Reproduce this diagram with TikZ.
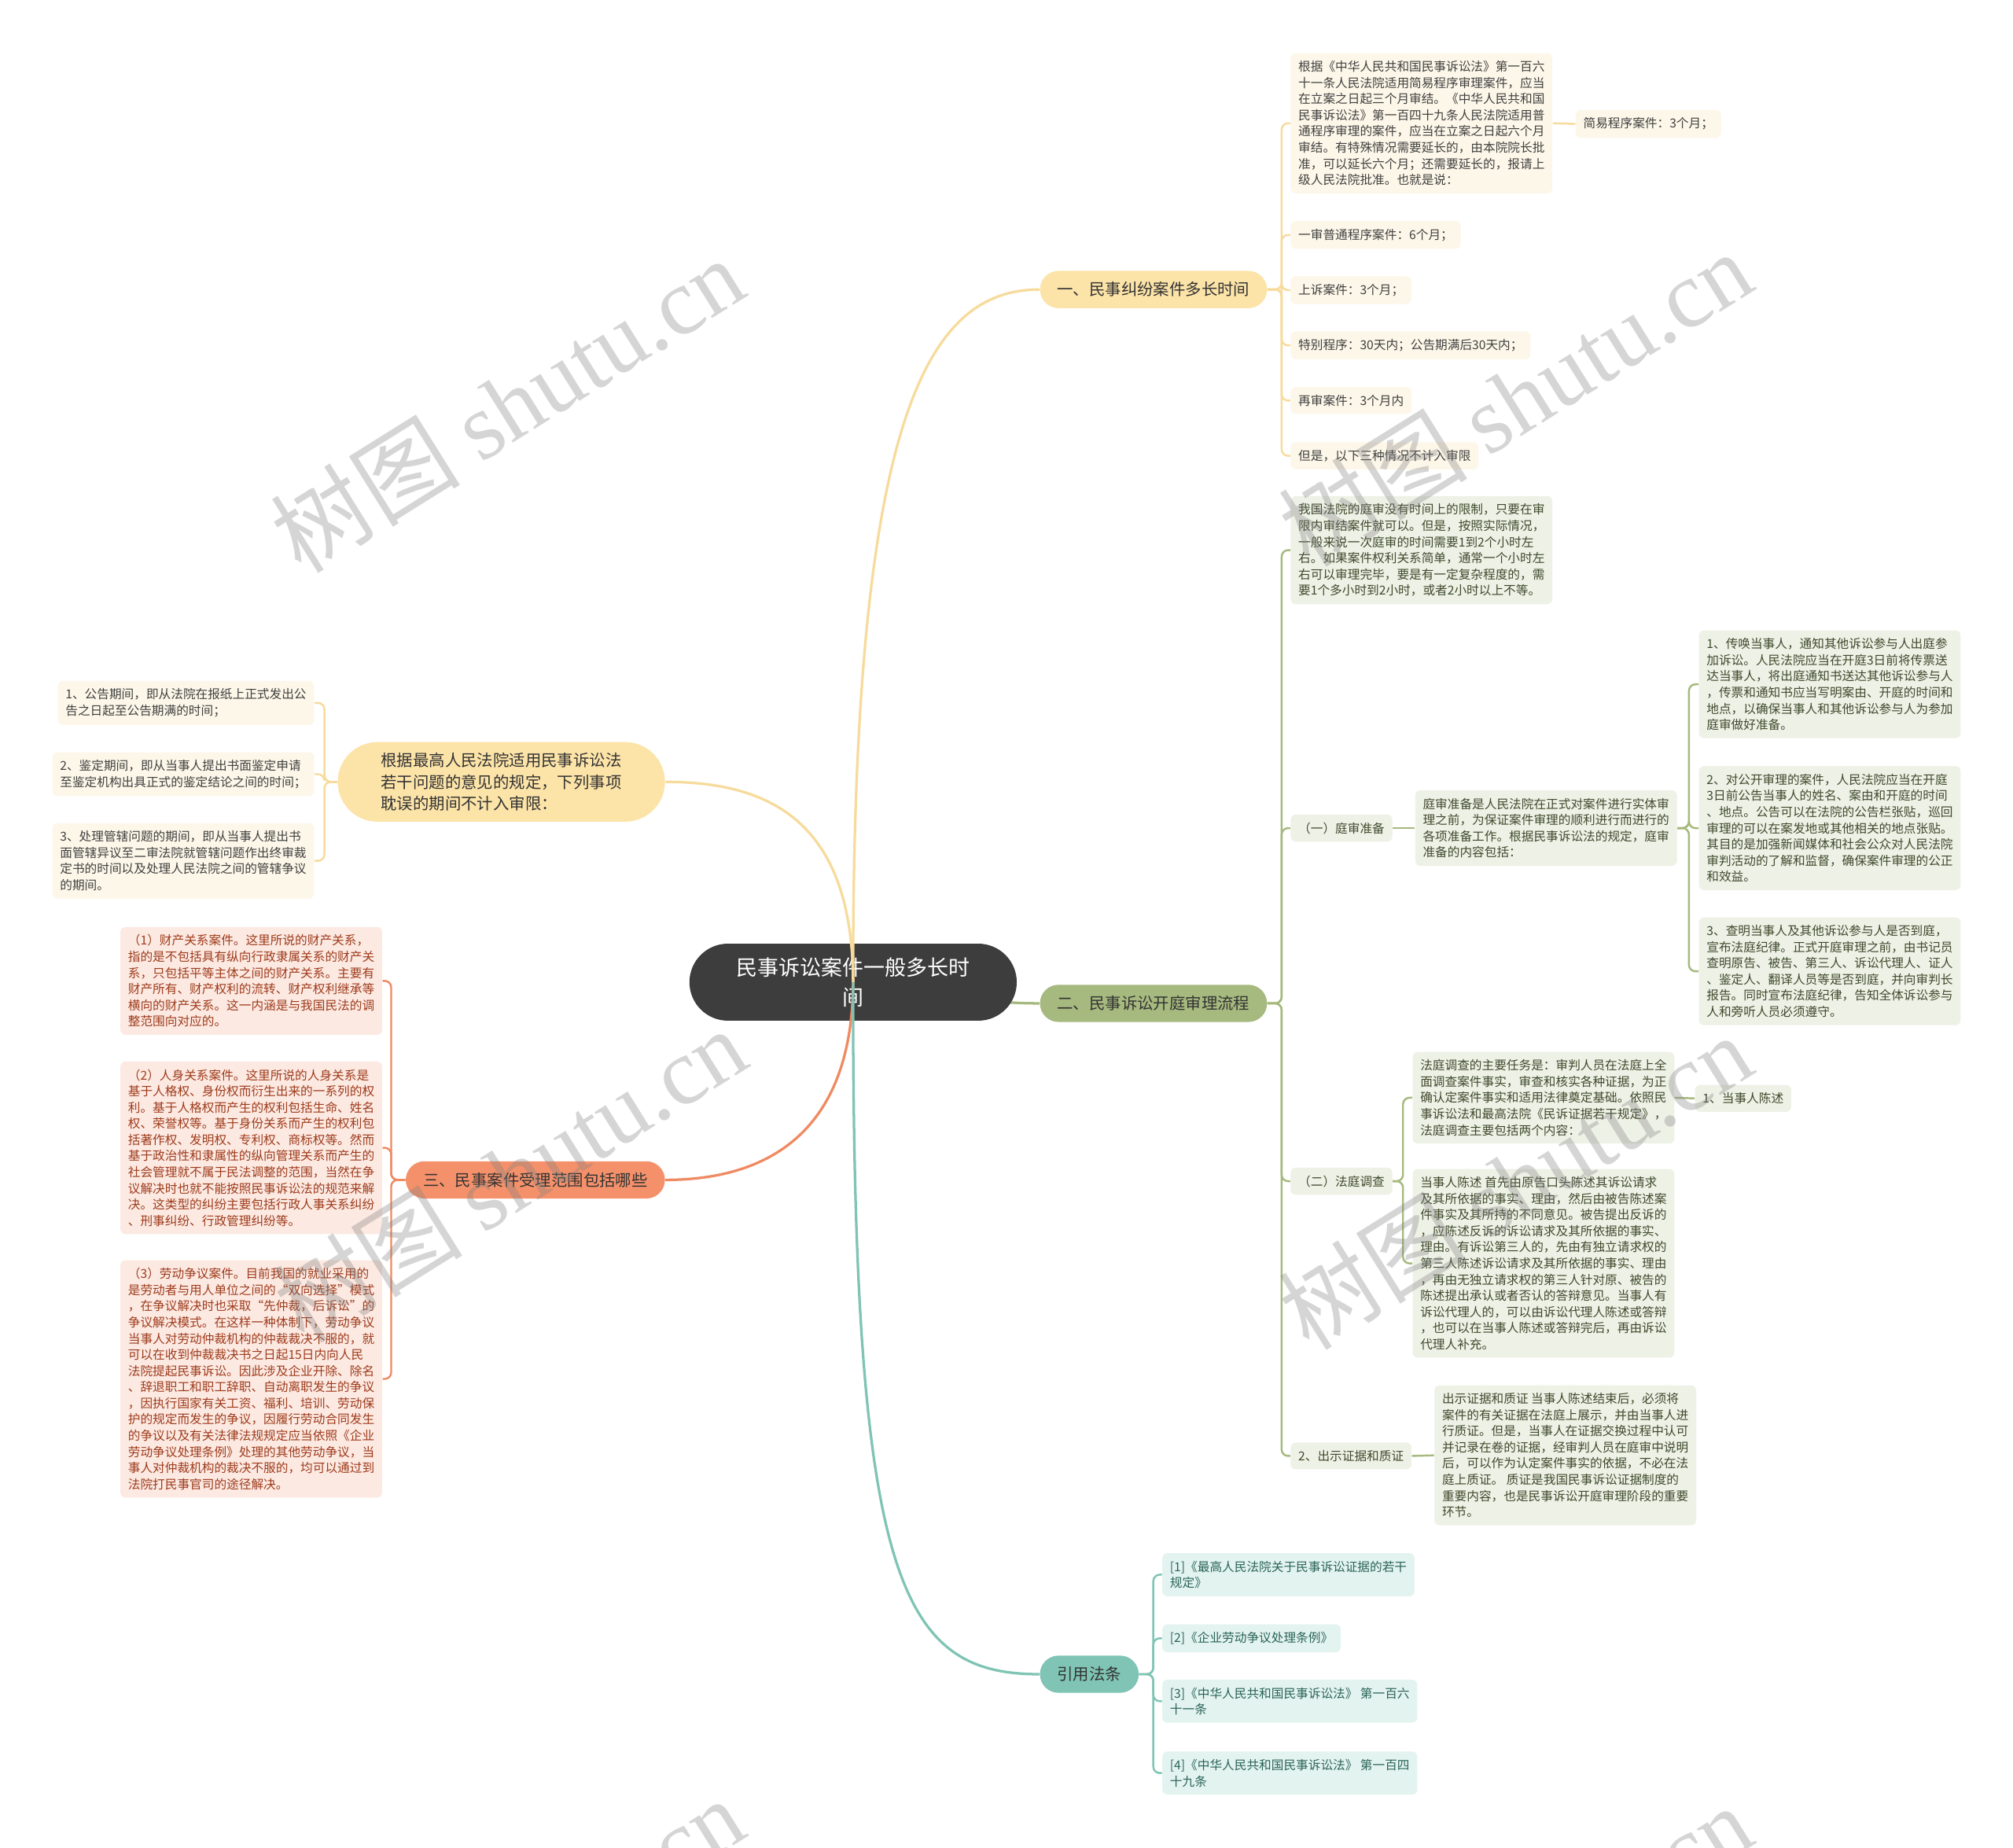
\documentclass[tikz,border=0pt]{standalone}
\usepackage{fontspec}
\setmainfont{Noto Sans CJK SC}
\newfontfamily\wmlatin{Liberation Serif}
\newcommand\leaffont{\fontsize{5.46pt}{7.17pt}\selectfont}
\newcommand\brfont{\fontsize{7.11pt}{9.67pt}\selectfont}
\newcommand\ctrfont{\fontsize{9.4pt}{13.1pt}\selectfont}
\newcommand\wmfont{\fontsize{42pt}{50pt}\selectfont}
\definecolor{cdark}{HTML}{3D3D3D}
\definecolor{btext}{HTML}{333333}
\definecolor{yfill}{HTML}{FCE3A8}
\definecolor{yline}{HTML}{F7DB9C}
\definecolor{yleaf}{HTML}{FDF7E9}
\definecolor{ytext}{HTML}{404040}
\definecolor{gfill}{HTML}{A6B97E}
\definecolor{gline}{HTML}{A6B97E}
\definecolor{gleaf}{HTML}{EEF1E6}
\definecolor{gtext}{HTML}{3E4A2C}
\definecolor{ofill}{HTML}{F4916B}
\definecolor{oline}{HTML}{EF8A62}
\definecolor{oleaf}{HTML}{FCE9E2}
\definecolor{otext}{HTML}{9E3B1B}
\definecolor{tfill}{HTML}{7FC4B4}
\definecolor{tline}{HTML}{7FC4B4}
\definecolor{tleaf}{HTML}{E3F3EF}
\definecolor{ttext}{HTML}{2A6458}
\begin{document}
\begin{tikzpicture}[x=0.02cm,y=-0.02cm,
 leaf/.style={rounded corners=0.08cm, inner xsep=0.12cm, inner ysep=0.12cm, align=left, font=\leaffont},
 yl/.style={leaf, fill=yleaf, text=ytext},
 gl/.style={leaf, fill=gleaf, text=gtext},
 ol/.style={leaf, fill=oleaf, text=otext},
 tl/.style={leaf, fill=tleaf, text=ttext},
 branch/.style={rounded corners=0.29cm, minimum height=0.58cm, inner xsep=0.27cm, inner ysep=0pt, font=\brfont, text=btext},
 ltop/.style={fill=yfill, rounded corners=0.62cm, minimum width=5.1cm, minimum height=1.24cm, align=left, font=\brfont, text=btext},
 ctr/.style={fill=cdark, text=white, rounded corners=0.6cm, minimum width=5.1cm, minimum height=1.2cm, align=center, font=\ctrfont},
 conn/.style={line width=0.03cm, rounded corners=0.1cm},
 mconn/.style={line width=0.04cm},
 wm/.style={rotate=32, text=black!50, opacity=0.33, font=\wmfont}]
\useasboundingbox (0,0) rectangle (1568,1439);
\fill[white] (0,0) rectangle (1568,1439);
\clip (0,0) rectangle (1568,1439);

% branch 2 (its connector lies under the central node)
\node[branch, fill=gfill] (b2) at (898.5,781.5) {二、民事诉讼开庭审理流程};
\coordinate (cc) at (664.5,765);
\draw[mconn, gline] (cc) .. controls (740,765) and (740,781.5) .. (b2.west);

% central
\node[ctr] (c) at (664.5,765) {民事诉讼案件一般多长时\\间};

% branch 1
\node[branch, fill=yfill] (b1) at (898.5,225.5) {一、民事纠纷案件多长时间};
\node[yl, anchor=west] (b1a) at (1005,96) {根据《中华人民共和国民事诉讼法》第一百六\\十一条人民法院适用简易程序审理案件，应当\\在立案之日起三个月审结。《中华人民共和国\\民事诉讼法》第一百四十九条人民法院适用普\\通程序审理的案件，应当在立案之日起六个月\\审结。有特殊情况需要延长的，由本院院长批\\准，可以延长六个月；还需要延长的，报请上\\级人民法院批准。也就是说：};
\node[yl, anchor=west] (b1a1) at (1227,96.5) {简易程序案件：3个月；};
\node[yl, anchor=west] (b1b) at (1005,183) {一审普通程序案件：6个月；};
\node[yl, anchor=west] (b1c) at (1005,226) {上诉案件：3个月；};
\node[yl, anchor=west] (b1d) at (1005,269) {特别程序：30天内；公告期满后30天内；};
\node[yl, anchor=west] (b1e) at (1005,312) {再审案件：3个月内};
\node[yl, anchor=west] (b1f) at (1005,355) {但是，以下三种情况不计入审限};

% branch 2 children
\node[gl, anchor=west] (b2a) at (1005,428.5) {我国法院的庭审没有时间上的限制，只要在审\\限内审结案件就可以。但是，按照实际情况，\\一般来说一次庭审的时间需要1到2个小时左\\右。如果案件权利关系简单，通常一个小时左\\右可以审理完毕，要是有一定复杂程度的，需\\要1个多小时到2小时，或者2小时以上不等。};
\node[gl, anchor=west] (b2b) at (1005,645) {（一）庭审准备};
\node[gl, anchor=west] (b2b1) at (1102,645) {庭审准备是人民法院在正式对案件进行实体审\\理之前，为保证案件审理的顺利进行而进行的\\各项准备工作。根据民事诉讼法的规定，庭审\\准备的内容包括：};
\node[gl, anchor=west] (b2b1a) at (1323,533) {1、传唤当事人，通知其他诉讼参与人出庭参\\加诉讼。人民法院应当在开庭3日前将传票送\\达当事人，将出庭通知书送达其他诉讼参与人\\，传票和通知书应当写明案由、开庭的时间和\\地点，以确保当事人和其他诉讼参与人为参加\\庭审做好准备。};
\node[gl, anchor=west] (b2b1b) at (1323,645) {2、对公开审理的案件，人民法院应当在开庭\\3日前公告当事人的姓名、案由和开庭的时间\\、地点。公告可以在法院的公告栏张贴，巡回\\审理的可以在案发地或其他相关的地点张贴。\\其目的是加强新闻媒体和社会公众对人民法院\\审判活动的了解和监督，确保案件审理的公正\\和效益。};
\node[gl, anchor=west] (b2b1c) at (1323,756.5) {3、查明当事人及其他诉讼参与人是否到庭，\\宣布法庭纪律。正式开庭审理之前，由书记员\\查明原告、被告、第三人、诉讼代理人、证人\\、鉴定人、翻译人员等是否到庭，并向审判长\\报告。同时宣布法庭纪律，告知全体诉讼参与\\人和旁听人员必须遵守。};
\node[gl, anchor=west] (b2c) at (1005,920) {（二）法庭调查};
\node[gl, anchor=west] (b2c1) at (1100,855) {法庭调查的主要任务是：审判人员在法庭上全\\面调查案件事实，审查和核实各种证据，为正\\确认定案件事实和适用法律奠定基础。依照民\\事诉讼法和最高法院《民诉证据若干规定》，\\法庭调查主要包括两个内容：};
\node[gl, anchor=west] (b2c1a) at (1320,855.5) {1、当事人陈述};
\node[gl, anchor=west] (b2c2) at (1100,984) {当事人陈述 首先由原告口头陈述其诉讼请求\\及其所依据的事实、理由，然后由被告陈述案\\件事实及其所持的不同意见。被告提出反诉的\\，应陈述反诉的诉讼请求及其所依据的事实、\\理由。有诉讼第三人的，先由有独立请求权的\\第三人陈述诉讼请求及其所依据的事实、理由\\，再由无独立请求权的第三人针对原、被告的\\陈述提出承认或者否认的答辩意见。当事人有\\诉讼代理人的，可以由诉讼代理人陈述或答辩\\，也可以在当事人陈述或答辩完后，再由诉讼\\代理人补充。};
\node[gl, anchor=west] (b2d) at (1005,1134) {2、出示证据和质证};
\node[gl, anchor=west] (b2d1) at (1117,1133.5) {出示证据和质证 当事人陈述结束后，必须将\\案件的有关证据在法庭上展示，并由当事人进\\行质证。但是，当事人在证据交换过程中认可\\并记录在卷的证据，经审判人员在庭审中说明\\后，可以作为认定案件事实的依据，不必在法\\庭上质证。 质证是我国民事诉讼证据制度的\\重要内容，也是民事诉讼开庭审理阶段的重要\\环节。};

% branch 3
\node[branch, fill=ofill] (b3) at (417,919) {三、民事案件受理范围包括哪些};
\node[ol, anchor=east] (b3a) at (298,764) {（1）财产关系案件。这里所说的财产关系，\\指的是不包括具有纵向行政隶属关系的财产关\\系，只包括平等主体之间的财产关系。主要有\\财产所有、财产权利的流转、财产权利继承等\\横向的财产关系。这一内涵是与我国民法的调\\整范围向对应的。};
\node[ol, anchor=east] (b3b) at (298,894) {（2）人身关系案件。这里所说的人身关系是\\基于人格权、身份权而衍生出来的一系列的权\\利。基于人格权而产生的权利包括生命、姓名\\权、荣誉权等。基于身份关系而产生的权利包\\括著作权、发明权、专利权、商标权等。然而\\基于政治性和隶属性的纵向管理关系而产生的\\社会管理就不属于民法调整的范围，当然在争\\议解决时也就不能按照民事诉讼法的规范来解\\决。这类型的纠纷主要包括行政人事关系纠纷\\、刑事纠纷、行政管理纠纷等。};
\node[ol, anchor=east] (b3c) at (298,1074) {（3）劳动争议案件。目前我国的就业采用的\\是劳动者与用人单位之间的“双向选择”模式\\，在争议解决时也采取“先仲裁，后诉讼”的\\争议解决模式。在这样一种体制下，劳动争议\\当事人对劳动仲裁机构的仲裁裁决不服的，就\\可以在收到仲裁裁决书之日起15日内向人民\\法院提起民事诉讼。因此涉及企业开除、除名\\、辞退职工和职工辞职、自动离职发生的争议\\，因执行国家有关工资、福利、培训、劳动保\\护的规定而发生的争议，因履行劳动合同发生\\的争议以及有关法律法规规定应当依照《企业\\劳动争议处理条例》处理的其他劳动争议，当\\事人对仲裁机构的裁决不服的，均可以通过到\\法院打民事官司的途径解决。};

% left top branch
\node[ltop] (b5) at (390.5,609) {根据最高人民法院适用民事诉讼法\\若干问题的意见的规定，下列事项\\耽误的期间不计入审限：};
\node[yl, anchor=east] (b5a) at (245,547.5) {1、公告期间，即从法院在报纸上正式发出公\\告之日起至公告期满的时间；};
\node[yl, anchor=east] (b5b) at (245,603) {2、鉴定期间，即从当事人提出书面鉴定申请\\至鉴定机构出具正式的鉴定结论之间的时间；};
\node[yl, anchor=east] (b5c) at (245,670.5) {3、处理管辖问题的期间，即从当事人提出书\\面管辖异议至二审法院就管辖问题作出终审裁\\定书的时间以及处理人民法院之间的管辖争议\\的期间。};

% branch 4
\node[branch, fill=tfill] (b4) at (848.5,1304) {引用法条};
\node[tl, anchor=west] (b4a) at (905,1226.5) {[1]《最高人民法院关于民事诉讼证据的若干\\规定》};
\node[tl, anchor=west] (b4b) at (905,1276) {[2]《企业劳动争议处理条例》};
\node[tl, anchor=west] (b4c) at (905,1325) {[3]《中华人民共和国民事诉讼法》 第一百六\\十一条};
\node[tl, anchor=west] (b4d) at (905,1381) {[4]《中华人民共和国民事诉讼法》 第一百四\\十九条};

% main connectors
\draw[mconn, yline] (c.center) .. controls (664,330) and (720,225.5) .. (b1.west);
\draw[mconn, yline] (c.center) .. controls (664,640) and (600,609) .. (b5.east);
\draw[mconn, oline] (c.center) .. controls (664,880) and (600,919) .. (b3.east);
\draw[mconn, tline] (c.center) .. controls (664,1230) and (700,1304) .. (b4.west);

% sub connectors
\foreach \nn in {b1a,b1b,b1c,b1d,b1e,b1f} \draw[conn, yline] (b1.east) -- ++(11,0) |- (\nn.west);
\draw[conn, yline] (b1a.east) -- (b1a1.west);
\foreach \nn in {b2a,b2b,b2c,b2d} \draw[conn, gline] (b2.east) -- ++(11,0) |- (\nn.west);
\draw[conn, gline] (b2b.east) -- (b2b1.west);
\foreach \nn in {b2b1a,b2b1b,b2b1c} \draw[conn, gline] (b2b1.east) -- ++(9,0) |- (\nn.west);
\foreach \nn in {b2c1,b2c2} \draw[conn, gline] (b2c.east) -- ++(8,0) |- (\nn.west);
\draw[conn, gline] (b2c1.east) -- (b2c1a.west);
\draw[conn, gline] (b2d.east) -- (b2d1.west);
\foreach \nn in {b3a,b3b,b3c} \draw[conn, oline] (b3.west) -- ++(-11,0) |- (\nn.east);
\foreach \nn in {b5a,b5b,b5c} \draw[conn, yline] (b5.west) -- ++(-10,0) |- (\nn.east);
\foreach \nn in {b4a,b4b,b4c,b4d} \draw[conn, tline] (b4.east) -- ++(11,0) |- (\nn.west);

% watermarks
\node[wm] (w1) at (395,315) {树图 {\wmlatin shutu.cn}};
\node[wm] (w2) at (1180,310) {树图 {\wmlatin shutu.cn}};
\node[wm] (w3) at (397,915) {树图 {\wmlatin shutu.cn}};
\node[wm] (w4) at (1180,920) {树图 {\wmlatin shutu.cn}};
\node[wm] (w5) at (395,1515) {树图 {\wmlatin shutu.cn}};
\node[wm] (w6) at (1180,1520) {树图 {\wmlatin shutu.cn}};
\end{tikzpicture}
\end{document}
